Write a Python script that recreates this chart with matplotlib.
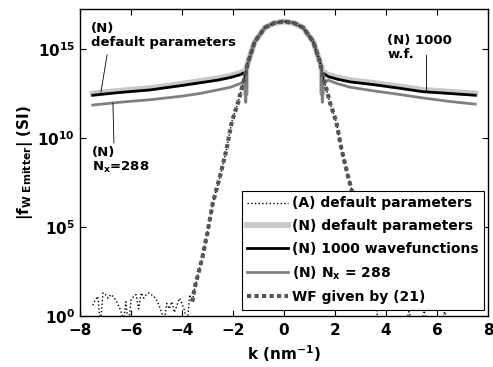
import matplotlib
matplotlib.use("Agg")
import matplotlib.pyplot as plt
import numpy as np

plt.rcParams['font.family'] = ['DejaVu Sans']
plt.rcParams['font.weight'] = 'bold'
plt.rcParams['mathtext.fontset'] = 'custom'
plt.rcParams['mathtext.rm'] = 'DejaVu Sans:bold'
plt.rcParams['mathtext.it'] = 'DejaVu Sans:bold'
plt.rcParams['mathtext.bf'] = 'DejaVu Sans:bold'
plt.rcParams['mathtext.default'] = 'rm'

# WF given by (21): log10 values
k_wf = [-3.6, -3.5, -3.2, -3.0, -2.8, -2.5, -2.25, -2.05, -1.8, -1.6, -1.4, -1.15, -0.75, -0.4, 0.0,
        0.4, 0.75, 1.15, 1.4, 1.6, 1.8, 2.05, 2.25, 2.5, 2.8, 3.0, 3.2, 3.5, 3.6]
log_wf = [0.8, 1.6, 3.3, 4.7, 6.3, 7.9, 9.4, 10.9, 12.0, 13.1, 14.3, 15.4, 16.2, 16.45, 16.55,
          16.45, 16.2, 15.4, 14.3, 13.1, 12.0, 10.9, 9.4, 7.9, 6.3, 4.7, 3.3, 1.6, 0.8]

# (A) default parameters: noisy tails
k_a_left = [-7.5, -7.4, -7.3, -7.2, -7.1, -7.0, -6.9, -6.8, -6.7, -6.6, -6.5, -6.4, -6.3, -6.2, -6.1,
            -6.0, -5.9, -5.8, -5.7, -5.6, -5.5, -5.4, -5.3, -5.2, -5.1, -5.0, -4.9, -4.8, -4.7, -4.6,
            -4.5, -4.4, -4.3, -4.2, -4.1, -4.0, -3.9, -3.8, -3.7]
log_a_left = [0.6, 0.9, 1.1, -0.5, 1.3, 1.2, 1.0, 1.2, 1.1, 0.9, 0.6, 0.3, -0.3, 0.8, -0.6,
              0.9, 1.1, 1.2, 0.4, 1.3, 1.0, 1.2, 1.3, 1.2, 1.1, 0.9, 0.6, 0.2, -0.4, 0.7,
              0.4, 0.8, 0.2, 0.6, 1.0, 0.7, 0.3, -0.5, 1.2]
k_a_right = [3.7, 3.9, 4.1, 4.3, 4.5, 4.7, 4.9, 5.1, 5.3, 5.5, 5.7, 5.9, 6.1, 6.3, 6.5,
             6.7, 6.9, 7.1, 7.3, 7.5]
log_a_right = [-0.5, -1.0, -1.5, -1.2, -1.0, -0.8, 0.25, -0.8, -1.0, 0.3, -1.0, -1.2, -0.9, 0.25, -1.0,
               -1.3, -1.5, -1.2, -1.4, -1.5]

# (N) numerical curves
k_num = [-7.5, -6.5, -5.25, -4.0, -3.3, -2.6, -2.1, -1.73, -1.58, -1.52, -1.50, -1.47, -1.4, -1.15,
         -0.75, -0.4, 0.0, 0.4, 0.75, 1.15, 1.4, 1.47, 1.50, 1.52, 1.58, 1.73, 2.1, 2.6, 3.5,
         4.5, 5.45, 6.5, 7.5]
log_default = [12.5, 12.65, 12.8, 13.05, 13.2, 13.35, 13.5, 13.65, 13.75, 13.6, 12.5, 14.0, 14.3, 15.4,
               16.2, 16.45, 16.55, 16.45, 16.2, 15.4, 14.3, 14.0, 12.5, 13.6, 13.7, 13.55, 13.4, 13.25, 13.1,
               12.9, 12.7, 12.6, 12.5]
log_1000 = [12.4, 12.55, 12.7, 12.95, 13.1, 13.25, 13.4, 13.55, 13.65, 13.5, 12.4, 13.9, 14.3, 15.4,
            16.2, 16.45, 16.55, 16.45, 16.2, 15.4, 14.3, 13.9, 12.4, 13.5, 13.6, 13.45, 13.3, 13.15, 13.0,
            12.8, 12.6, 12.5, 12.4]
log_nx288 = [11.85, 12.0, 12.15, 12.35, 12.5, 12.7, 12.85, 13.05, 13.15, 13.0, 12.0, 13.8, 14.3, 15.4,
             16.2, 16.45, 16.55, 16.45, 16.2, 15.4, 14.3, 13.8, 12.0, 13.0, 13.1, 13.25, 13.05, 12.85, 12.65,
             12.45, 12.25, 12.05, 11.9]

k_a = k_a_left + k_wf + k_a_right
log_a = log_a_left + log_wf + log_a_right

fig = plt.figure(figsize=(4.93, 3.67), dpi=100)
ax = fig.add_axes([0.1623, 0.139, 0.8276, 0.8357])

ax.plot(k_num, 10.0 ** np.array(log_default), color='#c8c8c8', lw=4.2, zorder=1,
        label='(N) default parameters')
ax.plot(k_num, 10.0 ** np.array(log_1000), color='black', lw=2.0, zorder=2,
        label='(N) 1000 wavefunctions')
ax.plot(k_num, 10.0 ** np.array(log_nx288), color='#808080', lw=2.0, zorder=3,
        label='(N) N$_\\mathregular{x}$ = 288')
ax.plot(k_a, 10.0 ** np.array(log_a), color='black', lw=1.0, ls=':', zorder=4,
        label='(A) default parameters')
ax.plot(k_wf, 10.0 ** np.array(log_wf), color='#555555', lw=3.0, ls=(0, (1, 0.8)), zorder=5,
        label='WF given by (21)')

ax.set_yscale('log')
ax.set_xlim(-8, 8)
ax.set_ylim(1, 10 ** 17.23)
ax.set_xticks(range(-8, 9, 2))
ax.set_yticks([1, 1e5, 1e10, 1e15])
ax.yaxis.set_minor_locator(matplotlib.ticker.NullLocator())
ax.tick_params(direction='in', top=True, right=True, labelsize=11, length=4, width=0.8)
ax.tick_params(axis='x', pad=5)
for s in ax.spines.values():
    s.set_linewidth(1.0)

ax.set_xlabel('k (nm$^{-1}$)', fontsize=11, fontweight='bold', labelpad=4)
ax.set_ylabel('|f$_{\\mathregular{W\\ Emitter}}$| (SI)', fontsize=11, fontweight='bold', labelpad=2)

handles, labels = ax.get_legend_handles_labels()
order = [3, 0, 1, 2, 4]
leg = ax.legend([handles[i] for i in order], [labels[i] for i in order], loc='lower right',
                bbox_to_anchor=(0.99, 0.02), fontsize=10, frameon=True, fancybox=False,
                edgecolor='black', framealpha=1, handlelength=2.9, handletextpad=0.3,
                labelspacing=0.62, borderpad=0.4, borderaxespad=0)
leg.get_frame().set_linewidth(0.8)
for t in leg.get_texts():
    t.set_fontweight('bold')

ax.text(-7.57, 10 ** 16.5, '(N)\ndefault parameters', fontsize=9.5, fontweight='bold',
        va='top', ha='left', linespacing=1.05)
ax.plot([-6.94, -7.18], [10 ** 14.66, 10 ** 12.58], color='black', lw=0.6, zorder=6)
ax.text(-7.53, 10 ** 9.55, '(N)\nN$_\\mathregular{x}$=288', fontsize=9.5, fontweight='bold',
        va='top', ha='left', linespacing=1.05)
ax.plot([-6.71, -6.67], [10 ** 11.97, 10 ** 9.72], color='black', lw=0.6, zorder=6)
ax.text(4.04, 10 ** 15.84, '(N) 1000\nw.f.', fontsize=9.5, fontweight='bold',
        va='top', ha='left', linespacing=1.05)
ax.plot([5.57, 5.57], [10 ** 14.66, 10 ** 12.7], color='black', lw=0.6, zorder=6)

fig.savefig('out.png', dpi=100)
